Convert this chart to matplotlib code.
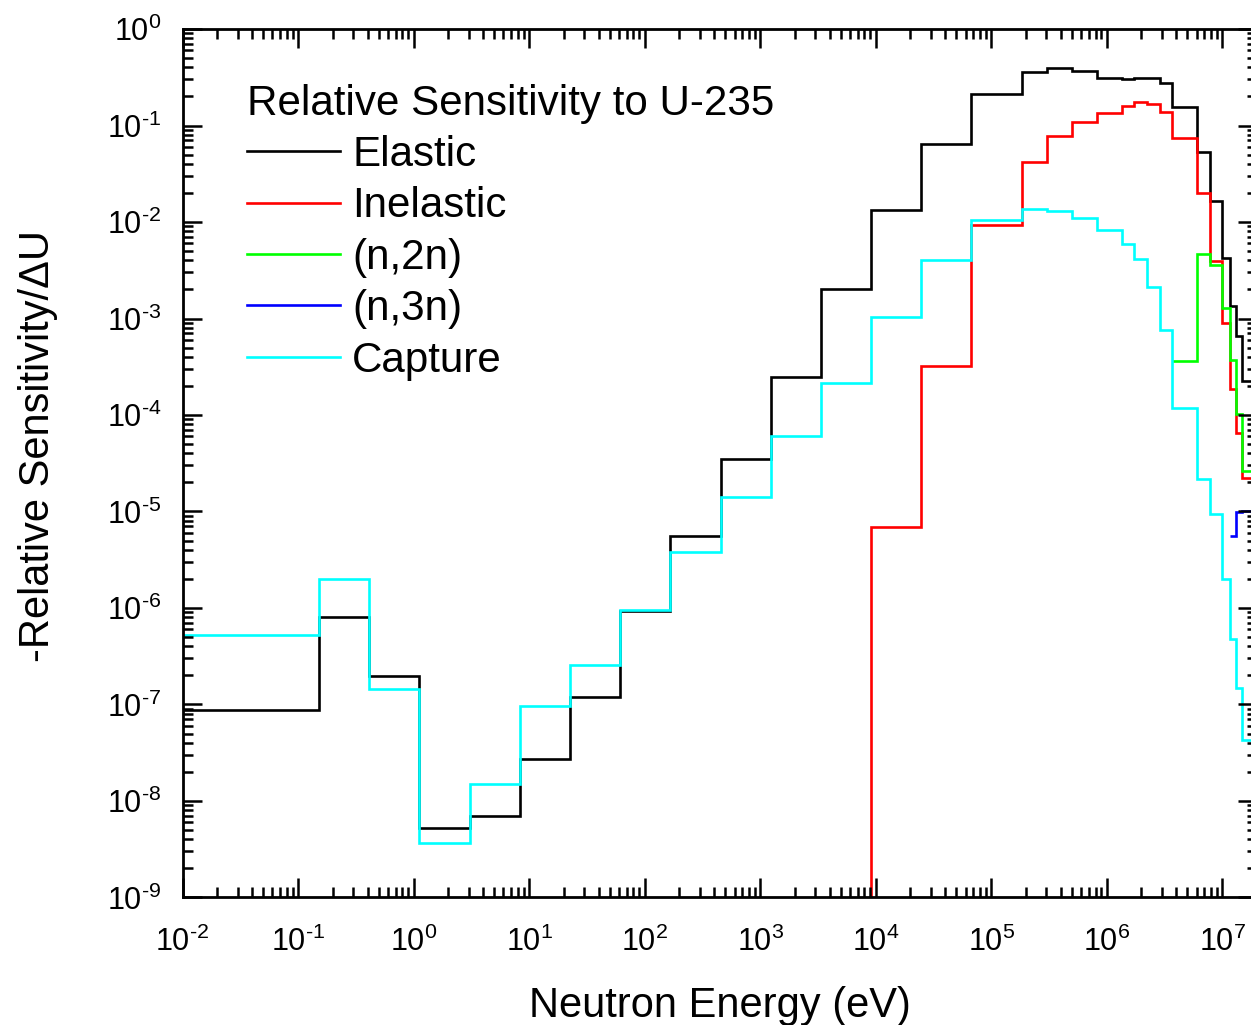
import numpy as np
import matplotlib
matplotlib.use('Agg')
import matplotlib.pyplot as plt
from matplotlib.ticker import LogLocator, NullFormatter, FuncFormatter

plt.rcParams['font.family'] = 'Liberation Sans'
plt.rcParams['mathtext.fontset'] = 'custom'
plt.rcParams['mathtext.rm'] = 'Liberation Sans'
plt.rcParams['mathtext.it'] = 'Liberation Sans:italic'
plt.rcParams['mathtext.bf'] = 'Liberation Sans:bold'
plt.rcParams['axes.unicode_minus'] = False

nan = np.nan

#energy group boundaries (eV)
edges = [1e-2, 0.1523, 0.4140, 1.125, 3.059, 8.315, 22.60, 61.44, 167.0, 454.0,
         1234, 3355, 9119, 2.479e4, 6.738e4, 1.832e5, 3.020e5, 4.979e5, 8.209e5,
         1.353e6, 1.738e6, 2.231e6, 2.865e6, 3.679e6, 6.065e6, 7.788e6, 1.0e7,
         1.17e7, 1.32e7, 1.48e7, 2.0e7]

#-relative sensitivity per unit lethargy, one value per group
elastic = [8.8e-8, 8.1e-7, 1.96e-7, 5.3e-9, 7.0e-9, 2.7e-8, 1.19e-7, 9.4e-7, 5.6e-6,
           3.5e-5, 2.5e-4, 2.0e-3, 1.33e-2, 6.4e-2, 0.21, 0.355, 0.397, 0.367, 0.313,
           0.303, 0.308, 0.308, 0.274, 0.157, 5.35e-2, 1.66e-2, 4.2e-3, 1.35e-3,
           6.6e-4, 2.25e-4]
inelastic = [nan, nan, nan, nan, nan, nan, nan, nan, nan, nan, nan, nan,
             6.9e-6, 3.2e-4, 9.2e-3, 4.2e-2, 7.8e-2, 0.11, 0.134, 0.159, 0.174, 0.168,
             0.139, 7.4e-2, 1.98e-2, 3.9e-3, 9.0e-4, 1.85e-4, 6.5e-5, 2.2e-5]
n2n = [nan] * 23 + [3.6e-4, 4.7e-3, 3.6e-3, 1.3e-3, 3.7e-4, 1.02e-4, 2.6e-5]
n3n = [nan] * 27 + [5.6e-6, 9.9e-6, 1.02e-5]
capture = [5.2e-7, 2.0e-6, 1.44e-7, 3.7e-9, 1.5e-8, 9.7e-8, 2.55e-7, 9.6e-7, 3.8e-6,
           1.42e-5, 6.0e-5, 2.13e-4, 1.03e-3, 4.0e-3, 1.05e-2, 1.35e-2, 1.31e-2,
           1.09e-2, 8.3e-3, 5.9e-3, 4.1e-3, 2.14e-3, 7.6e-4, 1.19e-4, 2.17e-5,
           9.4e-6, 2.0e-6, 4.8e-7, 1.48e-7, 4.3e-8]


def sci_label(v, pos):
    #short hyphen in the exponent, like the original
    n = int(round(np.log10(v)))
    return '$\\mathregular{10^{%s}}$' % str(n).replace('-', '\u2010')


fig = plt.figure(figsize=(12.51, 10.25), dpi=100)
ax = fig.add_axes([0.1459, 0.1244, 0.8589, 0.8473])

lw = 1.9
ax.stairs(elastic, edges, baseline=None, color='black', lw=lw, label='Elastic')
ax.stairs(inelastic, edges, baseline=1e-9, color='#ff0000', lw=lw, label='Inelastic')
ax.stairs(n2n, edges, baseline=None, color='#00ff00', lw=lw, label='(n,2n)')
ax.stairs(n3n, edges, baseline=None, color='#0000ff', lw=lw, label='(n,3n)')
ax.stairs(capture, edges, baseline=None, color='#00ffff', lw=lw, label='Capture')

ax.set_xscale('log')
ax.set_yscale('log')
ax.set_xlim(1e-2, 2e7)
ax.set_ylim(1e-9, 1)

for axis in [ax.xaxis, ax.yaxis]:
    axis.set_major_locator(LogLocator(base=10, numticks=30))
    axis.set_major_formatter(FuncFormatter(sci_label))
    axis.set_minor_locator(LogLocator(base=10, subs=np.arange(2, 10), numticks=300))
    axis.set_minor_formatter(NullFormatter())

ax.tick_params(which='both', direction='in', top=True, right=True, width=1.8)
ax.tick_params(which='major', length=13.5, labelsize=22)
ax.tick_params(which='minor', length=7)
ax.tick_params(axis='x', which='major', pad=21)
ax.tick_params(axis='y', which='major', pad=15)
for s in ax.spines.values():
    s.set_linewidth(2)

ax.set_xlabel('Neutron Energy (eV)', fontsize=30, labelpad=20)
ax.set_ylabel('-Relative Sensitivity/\u0394U', fontsize=30)
ax.yaxis.set_label_coords(-0.116, 0.52)

ax.legend(loc='upper left', bbox_to_anchor=(0.06, 0.937), frameon=False, fontsize=30.3,
          title='Relative Sensitivity to U-235', title_fontsize=30.3, handlelength=2.2,
          handletextpad=0.3, labelspacing=0.27, borderpad=0, borderaxespad=0,
          alignment='left')

fig.savefig('out.png', dpi=100)
